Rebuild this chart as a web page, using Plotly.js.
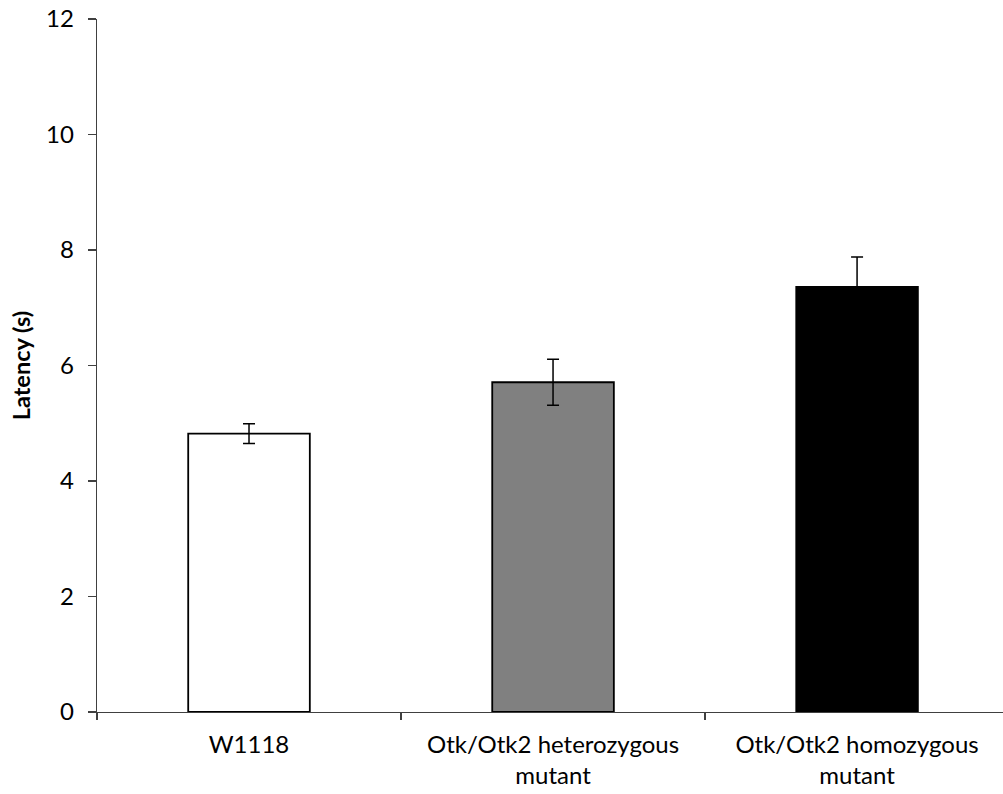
<!DOCTYPE html>
<html>
<head>
<meta charset="utf-8">
<script src="https://cdn.plot.ly/plotly-3.0.1.min.js"></script>
<style>
  html, body { margin: 0; padding: 0; background: #fff; }
  #chart { width: 1003px; height: 794px; }
</style>
</head>
<body>
<div id="chart"></div>
<script>
// Escape latency per genotype (mean ± SEM, seconds)
const genotypes = ["W1118", "Otk/Otk2 heterozygous<br>mutant", "Otk/Otk2 homozygous<br>mutant"];
const latency = [4.82, 5.71, 7.36];
const sem = [0.17, 0.40, 0.52];
const barColors = ["#ffffff", "#808080", "#000000"];

const FONT = "Lato, 'Open Sans', sans-serif";
const AXIS = "#404040";

const trace = {
  type: "bar",
  x: genotypes,
  y: latency,
  width: 0.4,
  marker: { color: barColors, line: { color: "#000000", width: 1.8 } },
  error_y: { type: "data", array: sem, visible: true, color: "#000000", thickness: 1.5, width: 6 },
  hoverinfo: "x+y"
};

const layout = {
  width: 1003,
  height: 794,
  margin: { l: 97, r: 0, t: 19, b: 82 },
  paper_bgcolor: "#ffffff",
  plot_bgcolor: "#ffffff",
  showlegend: false,
  font: { family: FONT, size: 24, color: "#000000" },
  xaxis: {
    type: "category",
    range: [-0.5, 2.48],
    tickson: "boundaries",
    ticks: "outside",
    ticklen: 7,
    tickwidth: 1.3,
    tickcolor: AXIS,
    showline: true,
    linecolor: AXIS,
    linewidth: 1.3,
    showgrid: false,
    zeroline: false,
    ticklabelstandoff: 11,
    tickfont: { family: FONT, size: 24, color: "#000000" },
    fixedrange: true
  },
  yaxis: {
    range: [0, 12],
    dtick: 2,
    tick0: 0,
    ticks: "outside",
    ticklen: 8,
    tickwidth: 1.3,
    tickcolor: AXIS,
    showline: true,
    linecolor: AXIS,
    linewidth: 1.3,
    showgrid: false,
    zeroline: false,
    ticklabelstandoff: 9,
    tickfont: { family: FONT, size: 24, color: "#000000" },
    title: { text: "<b>Latency (s)</b>", font: { family: FONT, size: 23.5, color: "#000000" }, standoff: 8 },
    fixedrange: true
  }
};

Plotly.newPlot("chart", [trace], layout, { displayModeBar: false, staticPlot: true });
</script>
</body>
</html>
